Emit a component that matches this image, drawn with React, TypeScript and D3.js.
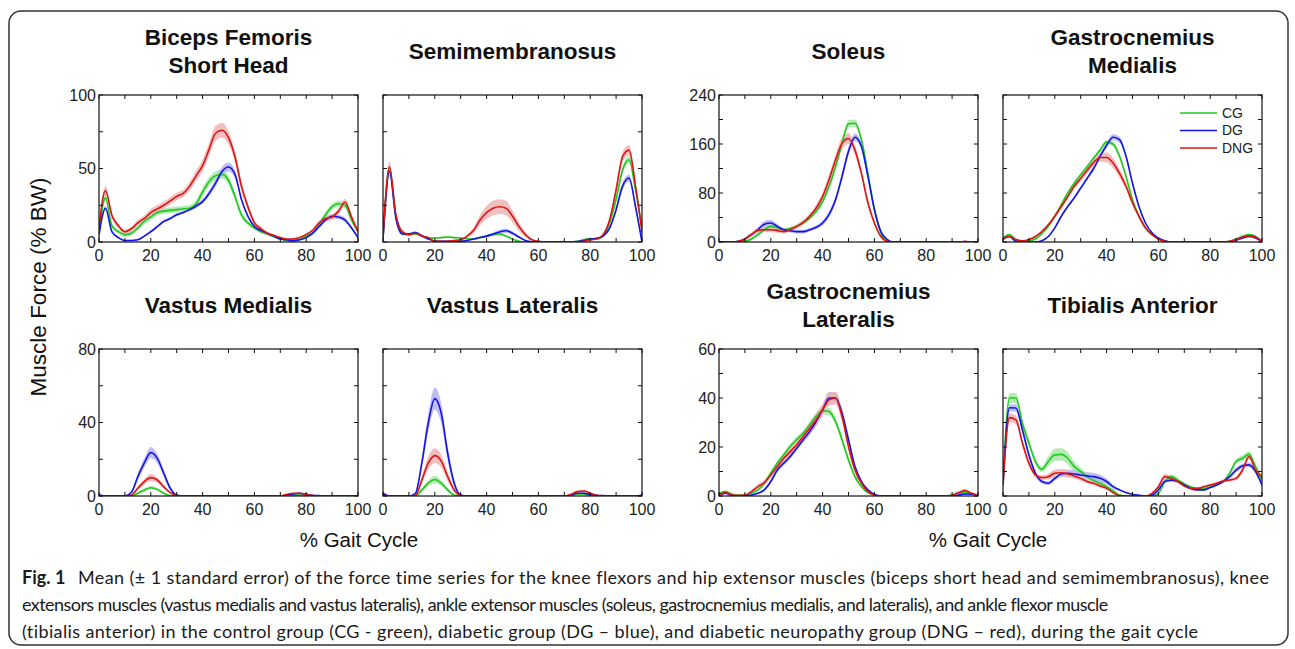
import React from 'react';
import * as d3 from 'd3';

// % gait cycle sample points
const GAIT = [0, 2.5, 5, 7.5, 10, 12.5, 15, 17.5, 20, 22.5, 25, 27.5, 30, 32.5, 35, 37.5, 40, 42.5, 45, 47.5,
  50, 52.5, 55, 57.5, 60, 62.5, 65, 67.5, 70, 72.5, 75, 77.5, 80, 82.5, 85, 87.5, 90, 92.5, 95, 97.5, 100];

const GROUPS = ['CG', 'DG', 'DNG'];

// Biceps Femoris Short Head
const BF_CG = [8, 30, 11, 7, 5, 6, 9.5, 14, 17, 20, 21, 21.5, 22, 22.5, 23, 26, 34, 41, 45, 46,
  42, 31, 18.5, 13, 9.5, 7, 5.5, 3.5, 2, 1, 0.5, 1.5, 4, 6, 12, 18.5, 24, 26, 25, 15, 7];
const BF_DG = [5, 23, 7, 3, 1, 1, 1.5, 4, 7, 10.5, 14, 16, 18.5, 20, 22, 24.5, 27.5, 33, 40, 48,
  51, 46, 29, 17.5, 10.5, 8, 6, 4, 2, 1.5, 1, 1.5, 3, 6, 10.5, 15, 17.5, 17, 15, 9.5, 3];
const BF_DNG = [10, 35, 18, 11, 7, 9, 13, 16, 20, 22.5, 25, 28, 31, 33, 38, 45, 52, 63, 74, 76,
  71, 58, 38, 24, 13, 9, 6, 4.5, 3, 2, 2, 3, 5, 8, 13, 16, 17, 21, 27, 17, 7];
const BF_CG_SE = [1, 2, 1.5, 1.5, 1.5, 1.5, 1.5, 2, 2, 2, 2, 2, 2, 2, 2, 2.5, 3, 3, 3, 3,
  3, 2.5, 2, 1.5, 1, 1, 1, 0.5, 0.5, 0.5, 0.5, 0.5, 0.5, 1, 1.5, 2, 2, 2, 2, 1.5, 1];
const BF_DG_SE = [1, 1.5, 1, 0.5, 0.5, 0.5, 0.5, 0.5, 1, 1, 1, 1, 1, 1, 1, 1.5, 1.5, 2, 2.5, 3,
  3, 2.5, 2, 1.5, 1, 1, 0.5, 0.5, 0.5, 0.5, 0.5, 0.5, 0.5, 1, 1, 1.5, 1.5, 1.5, 1.5, 1, 0.5];
const BF_DNG_SE = [1.5, 3, 2, 1.5, 1.5, 1.5, 2, 2, 2.5, 2.5, 2.5, 2.5, 2.5, 2.5, 3, 3.5, 4, 4.5, 5, 5,
  4.5, 4, 3.5, 2.5, 2, 1.5, 1, 1, 0.5, 0.5, 0.5, 0.5, 1, 1, 1.5, 2, 2, 2, 2.5, 2, 1.5];

// Semimembranosus
const SM_CG = [2, 50, 17, 6, 5, 5.5, 4.3, 2.7, 2.7, 3, 3.4, 3, 2.7, 2.3, 2, 3, 4, 5, 5.5, 4,
  2, 0.5, 0, 0, 0, 0, 0, 0, 0, 0, 0.5, 1.5, 2.3, 2, 4, 13, 29, 49, 56, 35.5, 9.5];
const SM_DG = [2, 48, 16, 5.5, 5.5, 6.5, 4.3, 2, 0.7, 0.5, 0.5, 0.5, 0.5, 1, 2, 3, 4, 5.5, 6.8, 7.7,
  6, 3.4, 1, 0.2, 0, 0, 0, 0, 0, 0, 0.3, 1, 2, 2.5, 4, 9.5, 22, 38, 43.5, 24, 0];
const SM_DNG = [3, 51, 18.5, 7, 5, 6, 4, 3, 0.5, 0.5, 0.5, 1, 1.5, 4, 8, 15, 20, 23, 24, 23,
  17.5, 10.5, 5, 1.5, 0.5, 0, 0, 0, 0, 0, 0, 0.5, 1.5, 2, 5, 15, 35.5, 58, 62.5, 38, 7];
const SM_CG_SE = [0.5, 3, 1.5, 1, 0.5, 0.5, 0.5, 0.5, 0.5, 0.5, 0.5, 0.5, 0.5, 0.5, 0.5, 0.5, 0.8, 1, 1, 0.8,
  0.5, 0.3, 0.2, 0.2, 0.2, 0.2, 0.2, 0.2, 0.2, 0.2, 0.2, 0.3, 0.5, 0.5, 0.5, 1, 2, 2.5, 2.5, 2, 1];
const SM_DG_SE = [0.5, 3, 1.5, 1, 0.8, 0.8, 0.5, 0.5, 0.3, 0.3, 0.3, 0.3, 0.3, 0.3, 0.5, 0.5, 0.8, 1, 1.5, 1.5,
  1.2, 0.8, 0.3, 0.2, 0.2, 0.2, 0.2, 0.2, 0.2, 0.2, 0.2, 0.3, 0.5, 0.5, 0.5, 1, 2, 2.5, 2.5, 2, 1];
const SM_DNG_SE = [0.5, 4, 2, 1, 0.8, 0.8, 0.5, 0.5, 0.3, 0.3, 0.3, 0.3, 0.5, 1, 2, 3.5, 4.5, 5, 5, 5,
  4, 3, 1.5, 0.5, 0.3, 0.2, 0.2, 0.2, 0.2, 0.2, 0.2, 0.3, 0.5, 0.5, 1, 2, 3, 3.5, 3.5, 2.5, 1.5];

// Soleus
const SO_CG = [0, 0, 0, 0, 1, 5, 12, 20, 25.5, 23, 20, 22, 25.5, 31, 39, 50, 66, 91, 123, 161,
  193, 194, 167, 112, 53, 15, 1, 0, 0, 0, 0, 0, 0, 0, 0, 0, 0, 0, 0, 0, 0];
const SO_DG = [0, 0, 0, 1, 5, 12, 20, 29, 31, 25.5, 20, 18.5, 17, 17, 20, 24, 31, 45, 69, 107,
  148, 171, 156, 107, 53, 17, 4, 0, 0, 0, 0, 0, 0, 0, 0, 0, 0, 0, 0, 0, 0];
const SO_DNG = [0, 0, 0, 1, 5, 12, 19, 20, 20, 19, 17, 20, 25.5, 32, 42, 55, 74, 102, 134, 161,
  169, 150, 112, 64, 31, 9, 1, 0, 0, 0, 0, 0, 0, 0, 0, 0, 0, 0, 1, 0, 0];
const SO_CG_SE = [0, 0, 0, 0, 1, 2, 3, 3, 3, 3, 3, 3, 3, 3, 3, 4, 4, 5, 5, 6,
  6, 6, 5, 4, 3, 2, 1, 0, 0, 0, 0, 0, 0, 0, 0, 0, 0, 0, 0, 0, 0];
const SO_DG_SE = [0, 0, 0, 1, 2, 3, 4, 5, 5, 4, 3, 3, 3, 3, 3, 3, 4, 5, 6, 7,
  7, 6, 6, 5, 4, 2, 1, 0, 0, 0, 0, 0, 0, 0, 0, 0, 0, 0, 0, 0, 0];
const SO_DNG_SE = [0, 0, 0, 1, 2, 3, 4, 4, 4, 4, 3, 3, 4, 4, 5, 6, 7, 8, 9, 10,
  9, 8, 7, 6, 4, 2, 1, 0, 0, 0, 0, 0, 0, 0, 0, 0, 0, 0, 0, 0, 0];

// Gastrocnemius Medialis
const GM_CG = [6.5, 12, 4, 1, 2, 5, 13.5, 25.5, 42, 61, 80, 96, 110, 123, 137, 150, 163, 160, 140, 107,
  69, 42, 23, 12, 5, 1, 0, 0, 0, 0, 0, 0, 0, 0, 0, 1, 5, 9, 12, 9, 1];
const GM_DG = [5, 9, 1, 0, 0, 0, 2, 9, 23, 42, 58, 72, 88, 104, 120, 140, 158, 171, 167, 140,
  96, 58, 31, 15, 6.5, 2, 0, 0, 0, 0, 0, 0, 0, 0, 0, 0.5, 3, 6.5, 9, 6.5, 1];
const GM_DNG = [5, 9, 4, 2, 4, 9, 17, 28, 42, 58, 74, 91, 104, 117, 130, 138, 138, 129, 112, 91,
  64, 42, 23, 12, 5, 1, 0, 0, 0, 0, 0, 0, 0, 0, 0, 1, 4, 8, 10, 8, 1];
const GM_CG_SE = [1, 2, 1, 0.5, 0.5, 1, 1, 2, 2, 2.5, 3, 3, 3, 3, 3, 3, 3.5, 4, 4, 3.5,
  3, 2.5, 2, 1, 0.5, 0.5, 0, 0, 0, 0, 0, 0, 0, 0, 0.5, 0.5, 1, 1.5, 2, 1.5, 0.5];
const GM_DG_SE = [1, 1.5, 0.5, 0, 0, 0, 0.5, 1, 2, 2.5, 3, 3, 3, 3, 3.5, 4, 4.5, 5, 5, 4.5,
  4, 3, 2, 1, 0.5, 0.5, 0, 0, 0, 0, 0, 0, 0, 0, 0, 0.5, 1, 1.5, 1.5, 1, 0.5];
const GM_DNG_SE = [1, 1.5, 1, 0.5, 1, 1.5, 2.5, 3, 3.5, 4, 4, 4.5, 5, 5, 6, 7, 8, 8, 7, 6,
  5, 4, 3, 1.5, 1, 0.5, 0, 0, 0, 0, 0, 0, 0, 0, 0, 0.5, 1, 1.5, 1.5, 1, 0.5];

// Vastus Medialis
const VM_CG = [0, 0, 0, 0, 0, 0, 1.5, 3.3, 4.5, 3.6, 1.5, 0.2, 0, 0, 0, 0, 0, 0, 0, 0,
  0, 0, 0, 0, 0, 0, 0, 0, 0, 0, 0.5, 0.5, 0.2, 0, 0, 0, 0, 0, 0, 0, 0];
const VM_DG = [0.7, 0, 0, 0, 0, 2, 10.5, 18, 23.6, 20.5, 12.4, 4.2, 0.5, 0, 0, 0, 0, 0, 0, 0,
  0, 0, 0, 0, 0, 0, 0, 0, 0, 0.5, 1.1, 1.5, 0.9, 0.4, 0.2, 0, 0, 0, 0, 0, 0];
const VM_DNG = [0, 0, 0, 0, 0, 0.5, 4.2, 7.8, 10, 8.7, 5, 1.8, 0.2, 0, 0, 0, 0, 0, 0, 0,
  0, 0, 0, 0, 0, 0, 0, 0, 0, 0.9, 1.5, 1.5, 0.9, 0.2, 0, 0, 0, 0, 0, 0, 0];
const VM_CG_SE = [0, 0, 0, 0, 0, 0, 0.5, 0.8, 1, 0.8, 0.5, 0.2, 0, 0, 0, 0, 0, 0, 0, 0,
  0, 0, 0, 0, 0, 0, 0, 0, 0, 0, 0.2, 0.2, 0, 0, 0, 0, 0, 0, 0, 0, 0];
const VM_DG_SE = [0.3, 0, 0, 0, 0, 0.5, 2, 2.5, 3, 2.5, 2, 1, 0.2, 0, 0, 0, 0, 0, 0, 0,
  0, 0, 0, 0, 0, 0, 0, 0, 0, 0.2, 0.3, 0.3, 0.2, 0.1, 0, 0, 0, 0, 0, 0, 0];
const VM_DNG_SE = [0, 0, 0, 0, 0, 0.2, 1, 1.5, 2, 1.5, 1, 0.5, 0.1, 0, 0, 0, 0, 0, 0, 0,
  0, 0, 0, 0, 0, 0, 0, 0, 0, 0.2, 0.3, 0.3, 0.2, 0.1, 0, 0, 0, 0, 0, 0, 0];

// Vastus Lateralis
const VL_CG = [0.5, 0, 0, 0, 0, 0, 3.3, 7, 9, 7, 3.3, 0.5, 0, 0, 0, 0, 0, 0, 0, 0,
  0, 0, 0, 0, 0, 0, 0, 0, 0, 0, 1.1, 1.1, 0.3, 0, 0, 0, 0, 0, 0, 0, 0];
const VL_DG = [1.5, 0, 0, 0, 0, 1.5, 18, 40, 53, 45, 23, 7, 0.5, 0, 0, 0, 0, 0, 0, 0,
  0, 0, 0, 0, 0, 0, 0, 0, 0, 0.5, 1.5, 1.5, 0.9, 0.4, 0.2, 0, 0, 0, 0, 0, 0.5];
const VL_DNG = [0.5, 0, 0, 0, 0, 0.3, 8.7, 18, 22, 19, 10.5, 3.3, 0.2, 0, 0, 0, 0, 0, 0, 0,
  0, 0, 0, 0, 0, 0, 0, 0, 0, 0.9, 2.4, 2.7, 1.5, 0.4, 0, 0, 0, 0, 0, 0, 0];
const VL_CG_SE = [0.2, 0, 0, 0, 0, 0, 1, 1.5, 2, 1.5, 1, 0.2, 0, 0, 0, 0, 0, 0, 0, 0,
  0, 0, 0, 0, 0, 0, 0, 0, 0, 0, 0.3, 0.3, 0.1, 0, 0, 0, 0, 0, 0, 0, 0];
const VL_DG_SE = [0.5, 0, 0, 0, 0, 0.5, 3, 5, 6, 5.5, 4, 2, 0.3, 0, 0, 0, 0, 0, 0, 0,
  0, 0, 0, 0, 0, 0, 0, 0, 0, 0.2, 0.5, 0.5, 0.3, 0.1, 0, 0, 0, 0, 0, 0, 0.2];
const VL_DNG_SE = [0.2, 0, 0, 0, 0, 0.2, 2, 3.5, 4, 3.5, 2.5, 1, 0.1, 0, 0, 0, 0, 0, 0, 0,
  0, 0, 0, 0, 0, 0, 0, 0, 0, 0.3, 0.6, 0.6, 0.4, 0.1, 0, 0, 0, 0, 0, 0, 0];

// Gastrocnemius Lateralis
const GL_CG = [1.1, 1.8, 0.7, 0.3, 0.4, 1.1, 2.5, 5.2, 9.3, 13.4, 16.8, 20.2, 23, 25.6, 29, 32.5, 34.8, 34.5, 30.4, 23,
  14.7, 7.9, 3.8, 1.4, 0.4, 0, 0, 0, 0, 0, 0, 0, 0, 0, 0, 0, 0.4, 1.1, 1.4, 1.1, 0.3];
const GL_DG = [0.4, 1.1, 0.2, 0, 0, 0.4, 1.1, 2.5, 5.9, 10.6, 13.4, 16.1, 19.5, 23, 26.3, 30.4, 35.2, 40, 40, 33.8,
  23, 12, 5.9, 2.5, 0.7, 0, 0, 0, 0, 0, 0, 0, 0, 0, 0, 0, 0, 0.4, 0.8, 0.7, 0.2];
const GL_DNG = [0.4, 1.4, 0.4, 0.3, 0.4, 1.8, 3.8, 5.5, 8.6, 12, 15.4, 18.1, 20.9, 24.3, 27.7, 31.1, 35.2, 39.3, 40, 32.5,
  20.2, 10.6, 5.2, 1.8, 0.4, 0, 0, 0, 0, 0, 0, 0, 0, 0, 0, 0, 0.3, 1.4, 2.2, 1.1, 0.2];
const GL_CG_SE = [0.3, 0.5, 0.3, 0.2, 0.2, 0.3, 0.5, 0.8, 1, 1, 1, 1.2, 1.2, 1.2, 1.2, 1.5, 1.5, 1.5, 1.5, 1.5,
  1.2, 1, 0.5, 0.3, 0.1, 0, 0, 0, 0, 0, 0, 0, 0, 0, 0, 0, 0.2, 0.3, 0.4, 0.3, 0.1];
const GL_DG_SE = [0.2, 0.3, 0.1, 0, 0, 0.2, 0.3, 0.5, 0.8, 1, 1, 1, 1, 1.2, 1.5, 1.8, 2.2, 2.5, 2.5, 2.2,
  1.8, 1.2, 0.6, 0.3, 0.1, 0, 0, 0, 0, 0, 0, 0, 0, 0, 0, 0, 0, 0.2, 0.3, 0.2, 0.1];
const GL_DNG_SE = [0.2, 0.5, 0.2, 0.1, 0.2, 0.5, 1, 1, 1.2, 1.5, 1.5, 1.5, 1.8, 2, 2.2, 2.5, 2.5, 2.5, 2.5, 2.2,
  1.8, 1.2, 0.6, 0.3, 0.1, 0, 0, 0, 0, 0, 0, 0, 0, 0, 0, 0, 0.2, 0.5, 0.8, 0.4, 0.1];

// Tibialis Anterior
const TA_CG = [4.5, 40, 40, 29.7, 21.6, 14.1, 10.9, 14.1, 16.8, 17, 15.4, 12, 10, 7.9, 6.3, 5.2, 3.8, 2.2, 0.4, 0,
  0, 0, 0, 0, 1.1, 5.9, 7.9, 6.5, 4.9, 3.8, 3.1, 3.1, 3.8, 4.9, 5.9, 9.3, 14.1, 15.4, 17, 12, 6.5];
const TA_DG = [4.5, 36, 35.9, 27, 16.8, 9.3, 5.9, 5.2, 7.2, 9, 9.3, 9, 8.6, 8.2, 7.9, 7.2, 5.9, 3.8, 2.5, 1.4,
  0.7, 0.3, 0, 0.4, 2.5, 5.9, 6.5, 5.9, 4.5, 3.1, 2.5, 2.5, 3.5, 4.5, 5.9, 7.9, 10.6, 12.3, 12.7, 10, 4.5];
const TA_DNG = [4.5, 32, 31.1, 21.6, 13.4, 8.6, 7.5, 7.9, 9.3, 9.5, 9, 8.2, 7.2, 5.9, 5.2, 4.1, 3.1, 1.4, 0.1, 0,
  0, 0, 0, 1.1, 3.8, 7.9, 7.2, 5.9, 4.1, 3.1, 3.1, 3.8, 4.5, 5.2, 6.1, 6.5, 7.2, 10.6, 16.1, 10.6, 7.9];
const TA_CG_SE = [1, 2, 2, 1.5, 1.5, 1.2, 1.2, 2, 2.5, 2.5, 2.5, 2, 1.5, 1.2, 1, 1, 0.8, 0.5, 0.2, 0,
  0, 0, 0, 0, 0.3, 0.8, 1, 0.8, 0.5, 0.4, 0.4, 0.4, 0.5, 0.5, 0.6, 0.8, 1, 1.2, 1.2, 1, 0.8];
const TA_DG_SE = [1, 1.5, 1.5, 1.5, 1.2, 1, 0.8, 0.8, 1, 1.2, 1.5, 1.5, 1.5, 1.5, 1.5, 1.5, 1.2, 0.8, 0.5, 0.3,
  0.2, 0.1, 0, 0.1, 0.3, 0.6, 0.8, 0.6, 0.5, 0.4, 0.3, 0.3, 0.4, 0.5, 0.6, 0.8, 1, 1, 1, 0.8, 0.6];
const TA_DNG_SE = [1, 1.8, 1.8, 1.5, 1.2, 1, 1, 1.2, 1.5, 1.5, 1.5, 1.2, 1, 0.8, 0.8, 0.6, 0.5, 0.3, 0.1, 0,
  0, 0, 0, 0.3, 0.8, 1.2, 1, 0.8, 0.5, 0.4, 0.4, 0.4, 0.5, 0.5, 0.6, 0.6, 0.8, 1, 1.2, 1, 0.8];

const X_TICKS = [0, 10, 20, 30, 40, 50, 60, 70, 80, 90, 100];
const X_LABELS = [0, 20, 40, 60, 80, 100];
const Y_TICKS_HIP = [0, 25, 50, 75, 100];
const Y_LABELS_HIP = [0, 50, 100];
const Y_TICKS_PF = [0, 40, 80, 120, 160, 200, 240];
const Y_LABELS_PF = [0, 80, 160, 240];
const Y_TICKS_VAS = [0, 20, 40, 60, 80];
const Y_LABELS_VAS = [0, 40, 80];
const Y_TICKS_GL = [0, 10, 20, 30, 40, 50, 60];
const Y_LABELS_GL = [0, 20, 40, 60];

const CAPTION = [
  'Mean (± 1 standard error) of the force time series for the knee flexors and hip extensor muscles (biceps short head and semimembranosus), knee',
  'extensors muscles (vastus medialis and vastus lateralis), ankle extensor muscles (soleus, gastrocnemius medialis, and lateralis), and ankle flexor muscle',
  '(tibialis anterior) in the control group (CG - green), diabetic group (DG – blue), and diabetic neuropathy group (DNG – red), during the gait cycle',
];

const panels = [
  { title: ['Biceps Femoris', 'Short Head'], yTicks: Y_TICKS_HIP, yLabels: Y_LABELS_HIP, means: [BF_CG, BF_DG, BF_DNG], ses: [BF_CG_SE, BF_DG_SE, BF_DNG_SE] },
  { title: ['Semimembranosus'], yTicks: Y_TICKS_HIP, yLabels: [], means: [SM_CG, SM_DG, SM_DNG], ses: [SM_CG_SE, SM_DG_SE, SM_DNG_SE] },
  { title: ['Soleus'], yTicks: Y_TICKS_PF, yLabels: Y_LABELS_PF, means: [SO_CG, SO_DG, SO_DNG], ses: [SO_CG_SE, SO_DG_SE, SO_DNG_SE] },
  { title: ['Gastrocnemius', 'Medialis'], yTicks: Y_TICKS_PF, yLabels: [], means: [GM_CG, GM_DG, GM_DNG], ses: [GM_CG_SE, GM_DG_SE, GM_DNG_SE], legend: true },
  { title: ['Vastus Medialis'], yTicks: Y_TICKS_VAS, yLabels: Y_LABELS_VAS, means: [VM_CG, VM_DG, VM_DNG], ses: [VM_CG_SE, VM_DG_SE, VM_DNG_SE] },
  { title: ['Vastus Lateralis'], yTicks: Y_TICKS_VAS, yLabels: [], means: [VL_CG, VL_DG, VL_DNG], ses: [VL_CG_SE, VL_DG_SE, VL_DNG_SE] },
  { title: ['Gastrocnemius', 'Lateralis'], yTicks: Y_TICKS_GL, yLabels: Y_LABELS_GL, means: [GL_CG, GL_DG, GL_DNG], ses: [GL_CG_SE, GL_DG_SE, GL_DNG_SE] },
  { title: ['Tibialis Anterior'], yTicks: Y_TICKS_GL, yLabels: [], means: [TA_CG, TA_DG, TA_DNG], ses: [TA_CG_SE, TA_DG_SE, TA_DNG_SE] },
];

const LINE_COLORS = ['#1fc81f', '#1414e6', '#dc1414'];
const BAND_COLORS = ['#a6e8a6', '#b4b4f2', '#f0b4b4'];

const COL_X = [99, 383, 719, 1003];
const ROW_Y = [95, 349];
const PW = 259;
const PH = 147;
const FONT = '"Liberation Sans", Arial, sans-serif';
const CAP_FONT = 'Lato, sans-serif';
// caption line starts / letter spacing to match line lengths
const CAP_X = [78, 22, 22];
const CAP_LS = [0.41, -0.56, 0.39];

const Panel = ({ p, idx }: { p: any; idx: number }) => {
  const left = COL_X[idx % 4];
  const top = ROW_Y[Math.floor(idx / 4)];
  const yMax = p.yTicks[p.yTicks.length - 1];
  const x = d3.scaleLinear().domain([0, 100]).range([left, left + PW]);
  const y = d3.scaleLinear().domain([0, yMax]).range([top + PH, top]);
  const clipId = `clip-${idx}`;

  const lineGen = d3.line<number>()
    .x((_, i) => x(GAIT[i]))
    .y(d => y(d))
    .curve(d3.curveMonotoneX);

  return (
    <g>
      <defs>
        <clipPath id={clipId}>
          <rect x={left} y={top} width={PW} height={PH} />
        </clipPath>
      </defs>
      {p.title.map((t: string, i: number) => (
        <text key={t} x={left + PW / 2}
          y={p.title.length === 2 ? top - 50 + i * 28 : top - 36}
          textAnchor="middle" fontFamily={FONT} fontWeight="bold" fontSize={22.5} fill="#111">{t}</text>
      ))}
      <g clipPath={`url(#${clipId})`}>
        {p.means.map((m: number[], k: number) => {
          const se = p.ses[k];
          const areaGen = d3.area<number>()
            .x((_, i) => x(GAIT[i]))
            .y0((d, i) => y(d - (se[i] ?? 0)))
            .y1((d, i) => y(d + (se[i] ?? 0)))
            .curve(d3.curveMonotoneX);
          return <path key={'b' + k} d={areaGen(m) || ''} fill={BAND_COLORS[k]} opacity={0.85} />;
        })}
        {p.means.map((m: number[], k: number) => (
          <path key={'l' + k} d={lineGen(m) || ''} fill="none" stroke={LINE_COLORS[k]} strokeWidth={1.6} />
        ))}
      </g>
      <rect x={left} y={top} width={PW} height={PH} fill="none" stroke="#111" strokeWidth={1.2} />
      {X_TICKS.map(t => (
        <g key={'xt' + t}>
          <line x1={x(t)} x2={x(t)} y1={top + PH} y2={top + PH - 4} stroke="#111" />
          <line x1={x(t)} x2={x(t)} y1={top} y2={top + 4} stroke="#111" />
        </g>
      ))}
      {p.yTicks.map((t: number) => (
        <g key={'yt' + t}>
          <line x1={left} x2={left + 4} y1={y(t)} y2={y(t)} stroke="#111" />
          <line x1={left + PW} x2={left + PW - 4} y1={y(t)} y2={y(t)} stroke="#111" />
        </g>
      ))}
      {X_LABELS.map(t => (
        <text key={'xl' + t} x={x(t)} y={top + PH + 19} textAnchor="middle"
          fontFamily={FONT} fontSize={16} fill="#222">{t}</text>
      ))}
      {p.yLabels.map((t: number) => (
        <text key={'yl' + t} x={left - 3} y={y(t)} dy="0.35em" textAnchor="end"
          fontFamily={FONT} fontSize={16} fill="#222">{t}</text>
      ))}
      {p.legend && GROUPS.map((g, k) => (
        <g key={g}>
          <line x1={left + 177} x2={left + 214} y1={top + 18 + k * 17.5} y2={top + 18 + k * 17.5}
            stroke={LINE_COLORS[k]} strokeWidth={1.6} />
          <text x={left + 219} y={top + 18 + k * 17.5} dy="0.35em" fontFamily={FONT} fontSize={14} fill="#222">{g}</text>
        </g>
      ))}
    </g>
  );
};

export default function App() {
  return (
    <svg width={1295} height={649} style={{ position: 'absolute', left: 0, top: 0, background: '#fff' }}>
      <rect x={9} y={11} width={1279} height={634} rx={12} fill="#fff" stroke="#333" strokeWidth={1.5} />
      {panels.map((p, i) => <Panel key={i} p={p} idx={i} />)}
      <text transform="translate(38,287) rotate(-90)" textAnchor="middle" dy="0.35em"
        fontFamily={FONT} fontSize={22.5} fill="#111">Muscle Force (% BW)</text>
      <text x={359} y={547} textAnchor="middle" fontFamily={FONT} fontSize={20.5} fill="#111">% Gait Cycle</text>
      <text x={988} y={547} textAnchor="middle" fontFamily={FONT} fontSize={20.5} fill="#111">% Gait Cycle</text>
      <text x={22} y={584} fontFamily={CAP_FONT} fontWeight="bold" fontSize={18} fill="#1a1a1a">Fig. 1</text>
      {CAPTION.map((c, i) => (
        <text key={i} x={CAP_X[i]} y={584 + i * 27} letterSpacing={CAP_LS[i]}
          fontFamily={CAP_FONT} fontSize={18} fill="#1a1a1a">{c}</text>
      ))}
    </svg>
  );
}
